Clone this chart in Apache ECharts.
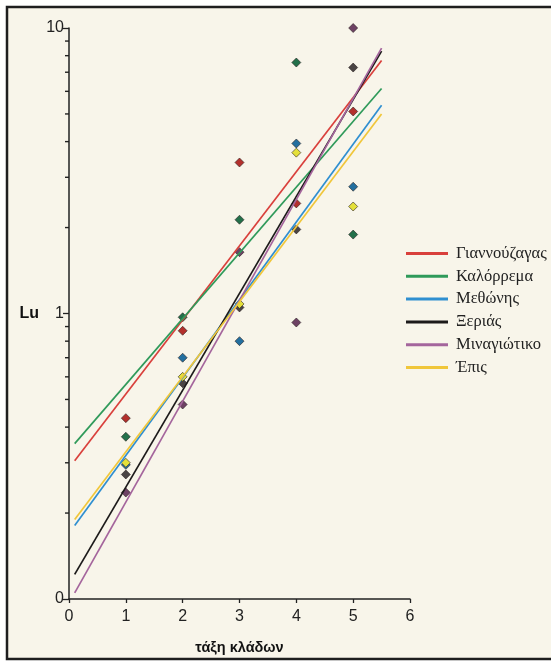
<!DOCTYPE html>
<html>
<head>
<meta charset="utf-8">
<script src="https://cdn.jsdelivr.net/npm/echarts@6/dist/echarts.min.js"></script>
<style>
  html, body { margin: 0; padding: 0; background: #fff; }
  #chart { width: 551px; height: 664px; }
</style>
</head>
<body>
<div id="chart"></div>
<script>
// sites (legend order)
const sites = ['Γιαννούζαγας', 'Καλόρρεμα', 'Μεθώνης', 'Ξεριάς', 'Μιναγιώτικο', 'Έπις'];
const lineColors = ['#d9403c', '#2f9a5a', '#2f8fd0', '#1c1a1a', '#a4659c', '#f0c63a'];
const dotColors = ['#b3302c', '#23704a', '#236f9f', '#4a4444', '#6e4264', '#e4e03a'];

// stream order on x
const orders = [1, 2, 3, 4, 5];

// Lu per site, orders 1..5
const luGiannouzagas = [0.43, 0.87, 3.38, 2.43, 5.1];
const luKalorrema = [0.37, 0.97, 2.13, 7.57, 1.89];
const luMethonis = [0.295, 0.70, 0.80, 3.94, 2.78];
const luXerias = [0.273, 0.57, 1.05, 1.97, 7.27];
const luMinagiotiko = [0.236, 0.48, 1.64, 0.93, 10];
const luEpis = [0.30, 0.60, 1.08, 3.66, 2.37];

// fitted lines, drawn from x=0.1 to x=5.5
const fitX = [0.1, 5.5];
const fitGiannouzagas = [0.305, 7.7];
const fitKalorrema = [0.35, 6.14];
const fitMethonis = [0.181, 5.36];
const fitXerias = [0.122, 8.3];
const fitMinagiotiko = [0.105, 8.5];
const fitEpis = [0.19, 5.0];

// minor ticks on the log axis
const minorTicks = [0.2, 0.3, 0.4, 0.5, 0.6, 0.7, 0.8, 0.9, 2, 3, 4, 5, 6, 7, 8, 9];

const luData = [luGiannouzagas, luKalorrema, luMethonis, luXerias, luMinagiotiko, luEpis];
const fitData = [fitGiannouzagas, fitKalorrema, fitMethonis, fitXerias, fitMinagiotiko, fitEpis];

const sansFont = '"Liberation Sans", Arial, sans-serif';
const serifFont = '"Liberation Serif", "DejaVu Serif", serif';

const series = [];
// lines first so the legend picks up their colour
sites.forEach((name, i) => {
  series.push({
    name: name,
    type: 'line',
    showSymbol: false,
    symbol: 'none',
    z: 3,
    lineStyle: { color: lineColors[i], width: 1.7 },
    itemStyle: { color: lineColors[i] },
    data: fitX.map((x, k) => [x, fitData[i][k]])
  });
});
sites.forEach((name, i) => {
  series.push({
    name: name,
    type: 'scatter',
    symbol: 'diamond',
    symbolSize: 9,
    z: 2,
    itemStyle: { color: dotColors[i], borderColor: 'rgba(40,30,30,0.75)', borderWidth: 0.8, opacity: 1 },
    data: orders.map((x, k) => [x, luData[i][k]])
  });
});
series.push({
  type: 'custom',
  silent: true,
  clip: false,
  z: 4,
  data: minorTicks.map(v => [0, v]),
  renderItem: function (params, api) {
    const p = api.coord([api.value(0), api.value(1)]);
    return {
      type: 'line',
      shape: { x1: p[0] - 4, y1: p[1], x2: p[0], y2: p[1] },
      style: { stroke: '#222', lineWidth: 1.4 }
    };
  }
});

const chart = echarts.init(document.getElementById('chart'), null, { renderer: 'canvas' });
chart.setOption({
  animation: false,
  backgroundColor: '#ffffff',
  graphic: [{
    type: 'rect',
    z: -10,
    shape: { x: 7, y: 7, width: 560, height: 652 },
    style: { fill: '#f8f5ea', stroke: '#1e1e1e', lineWidth: 2.5 }
  }],
  grid: { left: 69, top: 28, right: 141, bottom: 65, containLabel: false, outerBoundsMode: 'none' },
  legend: {
    orient: 'vertical',
    left: 406,
    top: 245,
    padding: 0,
    icon: 'rect',
    itemWidth: 42,
    itemHeight: 3,
    itemGap: 5.8,
    data: sites,
    textStyle: { fontFamily: serifFont, fontSize: 16.5, color: '#222', padding: [0, 0, 0, 3] }
  },
  xAxis: {
    type: 'value',
    min: 0,
    max: 6,
    interval: 1,
    name: 'τάξη κλάδων',
    nameLocation: 'middle',
    nameGap: 41,
    nameTextStyle: { fontFamily: sansFont, fontSize: 14.5, fontWeight: 'bold', color: '#111' },
    axisLine: { show: true, onZero: false, lineStyle: { color: '#222', width: 1.5 } },
    axisTick: { show: true, inside: false, length: 4, lineStyle: { color: '#222', width: 1.3 } },
    axisLabel: { fontFamily: sansFont, fontSize: 16, color: '#222', margin: 10 },
    splitLine: { show: false }
  },
  yAxis: {
    type: 'log',
    logBase: 10,
    min: 0.1,
    max: 10,
    name: 'Lu',
    nameLocation: 'middle',
    nameRotate: 0,
    nameGap: 30,
    nameTextStyle: { fontFamily: sansFont, fontSize: 16, fontWeight: 'bold', color: '#111' },
    axisLine: { show: true, lineStyle: { color: '#222', width: 1.5 } },
    axisTick: { show: true, inside: false, length: 6, lineStyle: { color: '#222', width: 1.3 } },
    axisLabel: {
      fontFamily: sansFont, fontSize: 16, color: '#222', margin: 5,
      formatter: v => (v < 0.5 ? '0' : String(Math.round(v)))
    },
    splitLine: { show: false }
  },
  series: series
});
</script>
</body>
</html>
